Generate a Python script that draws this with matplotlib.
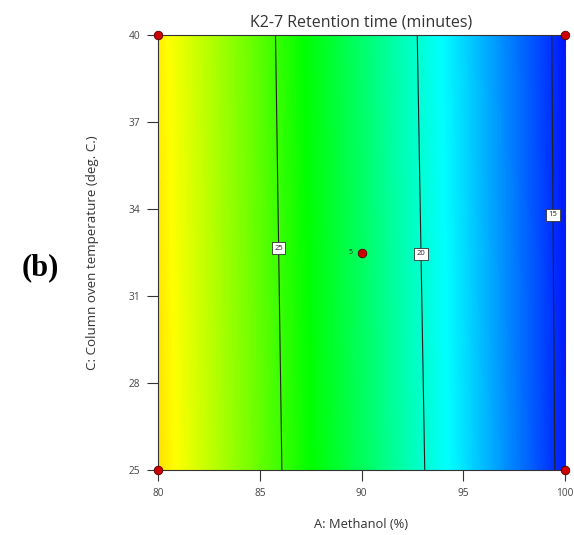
import numpy as np
import matplotlib.pyplot as plt
from matplotlib.colors import LinearSegmentedColormap

# factor levels (A: methanol %, C: column oven temperature)
methanol = [80, 85, 90, 95, 100]
temperature = [25, 40]
# retention time (min), rows = temperature
retention = [
    [28.95, 25.75, 22.30, 18.60, 14.60],
    [28.70, 25.55, 22.00, 18.35, 14.50],
]
levels = [15, 20, 25]
label_pos = [(85.9, 32.65), (92.8, 32.45), (99.45, 33.8)]

design_A = [80, 100, 80, 100, 90]
design_C = [25, 25, 40, 40, 32.5]

plt.rcParams['font.family'] = ['Open Sans', 'DejaVu Sans']

vmin, vmax = 14.0, 33.0
stops = [14.0, 19.1, 24.0, 28.4, 33.0]
cols = ['#0000ff', '#00ffff', '#00ff00', '#ffff00', '#ff0000']
cmap = LinearSegmentedColormap.from_list(
    'de', [((s - vmin) / (vmax - vmin), c) for s, c in zip(stops, cols)])

fig = plt.figure(figsize=(5.74, 5.35), dpi=100)
ax = fig.add_axes([0.2753, 0.1215, 0.709, 0.813])

Z = np.array(retention)
dA = methanol[1] - methanol[0]
dC = temperature[1] - temperature[0]
ax.imshow(Z, origin='lower', aspect='auto', cmap=cmap, vmin=vmin, vmax=vmax,
          interpolation='bilinear', interpolation_stage='data',
          extent=[methanol[0] - dA / 2, methanol[-1] + dA / 2,
                  temperature[0] - dC / 2, temperature[-1] + dC / 2])
A, C = np.meshgrid(methanol, temperature)
cs = ax.contour(A, C, Z, levels=levels, colors='#222222', linewidths=0.8)
lbls = ax.clabel(cs, fmt='%d', fontsize=5.5, inline=False, manual=label_pos)
for t in lbls:
    t.set_rotation(0)
    t.set_bbox(dict(boxstyle='square,pad=0.3', fc='white', ec='#333333', lw=0.6))

ax.scatter(design_A, design_C, s=38, color='#cc0000', edgecolors='#550000',
           linewidths=0.6, zorder=5, clip_on=False)
ax.text(89.55, 32.5, '5', fontsize=5, ha='right', va='center', color='#222222')

ax.set_xlim(80, 100)
ax.set_ylim(25, 40)
ax.set_xticks([80, 85, 90, 95, 100])
ax.set_yticks([25, 28, 31, 34, 37, 40])
ax.tick_params(direction='out', length=8, width=0.8, labelsize=7.3,
               labelcolor='#444444', color='#333333', pad=5)
for s in ax.spines.values():
    s.set_linewidth(0.8)
    s.set_color('#333333')

ax.set_title('K2-7 Retention time (minutes)', fontsize=11.5, color='#333333', pad=6)
ax.set_xlabel('A: Methanol (%)', fontsize=9.3, color='#333333', labelpad=14)
ax.set_ylabel('C: Column oven temperature (deg. C.)', fontsize=9.6,
              color='#333333', labelpad=21)

fig.text(0.07, 0.5, '(b)', fontsize=22, fontweight='bold',
         family='Liberation Serif', ha='center', va='center')

fig.savefig('out.png', dpi=100)
